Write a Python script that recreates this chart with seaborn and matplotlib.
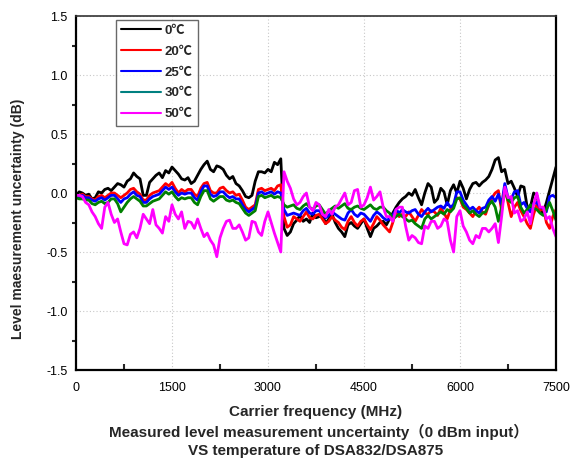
import pandas as pd
import matplotlib
matplotlib.use("Agg")
import matplotlib.pyplot as plt
from matplotlib.lines import Line2D
from matplotlib.ticker import MultipleLocator
import seaborn as sns

# carrier frequency grid (MHz), one reading every 50 MHz
freq = list(range(0, 7501, 50))

temps = ["0℃", "20℃", "25℃", "30℃", "50℃"]

# level measurement uncertainty (dB), one row per 1000 MHz
t0 = [-0.02, 0.01, 0.00, -0.02, -0.01, -0.05, -0.04, 0.01, 0.00, 0.03, 0.04, 0.02, 0.05, 0.08, 0.07, 0.05, 0.10, 0.12, 0.17, 0.14,
      0.12, -0.02, -0.02, 0.09, 0.12, 0.15, 0.17, 0.13, 0.19, 0.17, 0.22, 0.19, 0.16, 0.12, 0.11, 0.13, 0.08, 0.10, 0.15, 0.20,
      0.24, 0.27, 0.20, 0.18, 0.23, 0.22, 0.20, 0.15, 0.12, 0.14, 0.08, 0.06, 0.02, -0.03, -0.04, -0.02, 0.10, 0.18, 0.18, 0.17,
      0.20, 0.18, 0.26, 0.24, 0.29, -0.30, -0.36, -0.33, -0.26, -0.23, -0.19, -0.24, -0.22, -0.25, -0.17, -0.21, -0.20, -0.18, -0.26, -0.22,
      -0.18, -0.25, -0.30, -0.33, -0.37, -0.27, -0.25, -0.28, -0.30, -0.26, -0.22, -0.30, -0.37, -0.30, -0.28, -0.25, -0.24, -0.27, -0.22, -0.17,
      -0.12, -0.08, -0.05, -0.03, 0.00, -0.02, 0.03, -0.04, -0.10, 0.00, 0.08, 0.05, -0.08, -0.05, 0.04, 0.01, -0.10, 0.02, 0.07, 0.00,
      0.10, 0.04, -0.05, 0.03, 0.08, 0.09, 0.06, 0.09, 0.11, 0.14, 0.20, 0.28, 0.30, 0.18, 0.20, 0.08, 0.10, 0.04, -0.03, 0.06,
      0.05, -0.12, -0.12, 0.00, -0.02, -0.15, -0.17, -0.08, 0.02, 0.12, 0.22]

t20 = [-0.02, -0.03, -0.01, -0.03, -0.03, -0.05, -0.06, -0.03, -0.02, -0.04, -0.02, 0.00, 0.00, -0.02, -0.04, -0.02, 0.00, 0.03, 0.04, 0.01,
       -0.01, -0.06, -0.06, -0.02, 0.00, 0.01, 0.02, 0.05, 0.08, 0.06, 0.09, 0.04, 0.00, 0.03, 0.01, 0.03, 0.03, -0.01, -0.03, 0.04,
       0.08, 0.09, 0.02, 0.00, 0.00, 0.04, 0.05, 0.02, 0.00, 0.01, -0.02, -0.01, -0.06, -0.12, -0.14, -0.12, -0.10, 0.03, 0.04, 0.02,
       0.03, 0.04, 0.02, 0.06, 0.07, -0.20, -0.29, -0.27, -0.20, -0.22, -0.24, -0.20, -0.16, -0.21, -0.22, -0.19, -0.18, -0.22, -0.26, -0.24,
       -0.20, -0.23, -0.25, -0.29, -0.31, -0.24, -0.20, -0.25, -0.28, -0.24, -0.22, -0.27, -0.31, -0.26, -0.20, -0.23, -0.27, -0.30, -0.33, -0.25,
       -0.15, -0.20, -0.18, -0.20, -0.16, -0.20, -0.24, -0.19, -0.14, -0.17, -0.18, -0.15, -0.16, -0.19, -0.13, -0.17, -0.22, -0.14, -0.10, -0.04,
       -0.05, -0.12, -0.14, -0.17, -0.20, -0.15, -0.12, -0.16, -0.18, -0.10, -0.04, 0.00, 0.02, -0.15, 0.05, -0.08, -0.20, -0.12, -0.08, -0.15,
       -0.20, -0.26, -0.30, -0.18, -0.10, -0.15, -0.12, -0.25, -0.30, -0.20, -0.14]

t25 = [-0.03, -0.04, -0.02, -0.04, -0.04, -0.06, -0.07, -0.05, -0.04, -0.06, -0.04, -0.02, -0.02, -0.05, -0.08, -0.05, -0.04, -0.01, 0.01, -0.02,
       -0.03, -0.08, -0.08, -0.05, -0.03, -0.02, -0.01, 0.02, 0.05, 0.03, 0.05, 0.01, -0.02, 0.00, -0.01, 0.00, 0.00, -0.04, -0.06, 0.01,
       0.06, 0.06, -0.01, -0.03, -0.02, 0.01, 0.01, -0.02, -0.04, -0.03, -0.05, -0.05, -0.10, -0.14, -0.16, -0.14, -0.12, 0.00, 0.01, -0.01,
       0.00, 0.01, -0.01, 0.01, 0.00, -0.14, -0.19, -0.18, -0.17, -0.18, -0.19, -0.15, -0.13, -0.17, -0.18, -0.15, -0.15, -0.18, -0.21, -0.19,
       -0.16, -0.18, -0.20, -0.22, -0.23, -0.17, -0.14, -0.18, -0.20, -0.17, -0.18, -0.21, -0.24, -0.19, -0.16, -0.18, -0.21, -0.23, -0.22, -0.19,
       -0.14, -0.17, -0.14, -0.16, -0.17, -0.15, -0.14, -0.18, -0.20, -0.16, -0.13, -0.16, -0.14, -0.12, -0.11, -0.13, -0.08, -0.12, -0.10, 0.01,
       0.01, -0.06, -0.10, -0.14, -0.12, -0.15, -0.17, -0.13, -0.12, -0.06, -0.03, -0.07, -0.01, -0.10, 0.08, -0.04, -0.05, 0.01, 0.02, -0.10,
       -0.08, -0.13, -0.16, -0.09, -0.08, -0.12, -0.13, -0.16, -0.03, -0.02, -0.04]

t30 = [-0.04, -0.05, -0.05, -0.06, -0.06, -0.09, -0.10, -0.08, -0.07, -0.09, -0.08, -0.05, -0.05, -0.09, -0.16, -0.12, -0.08, -0.05, -0.03, -0.05,
       -0.07, -0.11, -0.11, -0.09, -0.07, -0.06, -0.05, -0.02, 0.01, -0.01, 0.01, -0.03, -0.06, -0.04, -0.05, -0.04, -0.04, -0.08, -0.10, -0.03,
       0.02, 0.02, -0.05, -0.07, -0.05, -0.03, -0.03, -0.06, -0.07, -0.06, -0.08, -0.09, -0.13, -0.17, -0.19, -0.17, -0.15, -0.03, -0.02, -0.04,
       -0.03, -0.02, -0.04, -0.03, -0.04, -0.10, -0.12, -0.11, -0.10, -0.13, -0.14, -0.11, -0.09, -0.12, -0.14, -0.11, -0.10, -0.14, -0.18, -0.15,
       -0.13, -0.11, -0.13, -0.11, -0.09, -0.13, -0.14, -0.12, -0.11, -0.13, -0.14, -0.12, -0.10, -0.13, -0.14, -0.12, -0.12, -0.15, -0.17, -0.22,
       -0.20, -0.18, -0.20, -0.22, -0.24, -0.23, -0.26, -0.28, -0.30, -0.22, -0.19, -0.22, -0.20, -0.18, -0.16, -0.18, -0.14, -0.16, -0.13, -0.05,
       -0.04, -0.10, -0.13, -0.17, -0.15, -0.18, -0.20, -0.17, -0.16, -0.10, -0.07, -0.12, -0.24, -0.12, 0.02, -0.06, -0.08, -0.04, -0.03, -0.12,
       -0.17, -0.14, -0.10, -0.13, -0.14, -0.17, -0.19, -0.14, -0.08, -0.15, -0.23]

t50 = [-0.02, -0.02, -0.03, -0.08, -0.10, -0.16, -0.20, -0.26, -0.30, -0.12, -0.08, -0.18, -0.25, -0.22, -0.33, -0.43, -0.44, -0.35, -0.33, -0.38,
       -0.30, -0.18, -0.22, -0.26, -0.14, -0.27, -0.30, -0.34, -0.20, -0.24, -0.10, -0.18, -0.22, -0.16, -0.30, -0.24, -0.25, -0.30, -0.22, -0.30,
       -0.37, -0.34, -0.40, -0.44, -0.54, -0.38, -0.30, -0.24, -0.23, -0.30, -0.30, -0.27, -0.33, -0.40, -0.38, -0.24, -0.25, -0.33, -0.36, -0.24,
       -0.16, -0.25, -0.34, -0.42, -0.50, 0.18, 0.10, 0.04, -0.05, -0.10, -0.08, -0.03, 0.00, -0.12, -0.15, -0.08, -0.10, -0.18, -0.20, -0.14,
       -0.18, -0.12, -0.10, -0.05, 0.00, -0.10, -0.08, 0.02, 0.03, -0.12, -0.10, -0.04, 0.05, -0.06, -0.03, 0.01, -0.12, -0.20, -0.20, -0.24,
       -0.14, -0.12, -0.12, -0.28, -0.40, -0.36, -0.38, -0.42, -0.43, -0.28, -0.30, -0.24, -0.24, -0.30, -0.28, -0.22, -0.24, -0.40, -0.50, -0.20,
       -0.15, -0.28, -0.33, -0.40, -0.43, -0.36, -0.38, -0.30, -0.30, -0.33, -0.30, -0.26, -0.42, -0.20, 0.05, -0.04, -0.03, -0.17, -0.15, -0.24,
       -0.22, -0.16, -0.26, -0.10, 0.00, -0.12, -0.12, -0.22, -0.20, -0.30, -0.37]

line_colors = ["#000000", "#FF0000", "#0000FF", "#008000", "#FF00FF"]
legend_colors = ["#000000", "#FF0000", "#0000FF", "#008080", "#FF00FF"]

series = [t0, t20, t25, t30, t50]
df = pd.DataFrame({"freq": freq * len(series),
                   "unc": [v for s in series for v in s],
                   "temp": [t for t in temps for _ in freq]})

sns.set_theme(style="white")
plt.rcParams["font.family"] = ["Liberation Sans", "Noto Sans CJK SC", "DejaVu Sans"]
plt.rcParams["axes.unicode_minus"] = False

fig = plt.figure(figsize=(5.72, 4.61), dpi=100)
ax = fig.add_axes([76 / 572, 1 - 370 / 461, 480 / 572, 354 / 461])

sns.lineplot(data=df, x="freq", y="unc", hue="temp", hue_order=temps,
             palette=line_colors, linewidth=2.0, legend=False, ax=ax)

ax.set_xlim(0, 7500)
ax.set_ylim(-1.5, 1.5)
ax.xaxis.set_major_locator(MultipleLocator(1500))
ax.xaxis.set_minor_locator(MultipleLocator(750))
ax.yaxis.set_major_locator(MultipleLocator(0.5))
ax.yaxis.set_minor_locator(MultipleLocator(0.25))
ax.set_yticks([1.5, 1.0, 0.5, 0.0, -0.5, -1.0, -1.5])
ax.set_yticklabels(["1.5", "1.0", "0.5", "0.0", "-0.5", "-1.0", "-1.5"])

ax.grid(True, which="major", color="#c8c8c8", linestyle=(0, (1, 2)), linewidth=0.8)
for s in ax.spines.values():
    s.set_color("black")
    s.set_linewidth(1.6)
ax.spines["top"].set_color("#333333")
ax.spines["top"].set_linewidth(1.2)

ax.tick_params(axis="y", which="major", direction="out", length=4, width=1.5,
               labelsize=9, pad=2, colors="black")
ax.tick_params(axis="y", which="minor", direction="out", length=3, width=1.5, left=True)
ax.tick_params(axis="x", which="major", direction="inout", length=7, width=1.5,
               labelsize=9, pad=5, colors="black")
ax.tick_params(axis="x", which="minor", direction="in", length=4, width=1.5, bottom=True)

ax.set_xlabel("")
ax.set_ylabel("Level maesurement uncertainty (dB)", fontsize=10, fontweight="bold")
ax.yaxis.set_label_coords(-0.106, 0.427)

# x label and the two caption lines underneath
fig.text(316 / 572, 1 - 412 / 461, "Carrier frequency (MHz)",
         ha="center", va="center", fontsize=11, fontweight="bold")
fig.text(319 / 572, 1 - 432 / 461, "Measured level measurement uncertainty（0 dBm input）",
         ha="center", va="center", fontsize=11, fontweight="bold",
         family=["Liberation Sans", "Noto Sans CJK SC"])
fig.text(316 / 572, 1 - 451 / 461, "VS temperature of DSA832/DSA875",
         ha="center", va="center", fontsize=11, fontweight="bold")

handles = [Line2D([0], [0], color=c, linewidth=1.5) for c in legend_colors]
leg = ax.legend(handles, temps, loc="upper left", bbox_to_anchor=(0.083, 0.99),
                borderaxespad=0, frameon=True, fancybox=False, handlelength=3.0,
                handletextpad=0.3, labelspacing=0.65, borderpad=0.4,
                prop={"weight": "bold", "size": 9.5})
leg.get_frame().set_edgecolor("#444444")
leg.get_frame().set_linewidth(1.0)

fig.savefig("out.png", dpi=100)
